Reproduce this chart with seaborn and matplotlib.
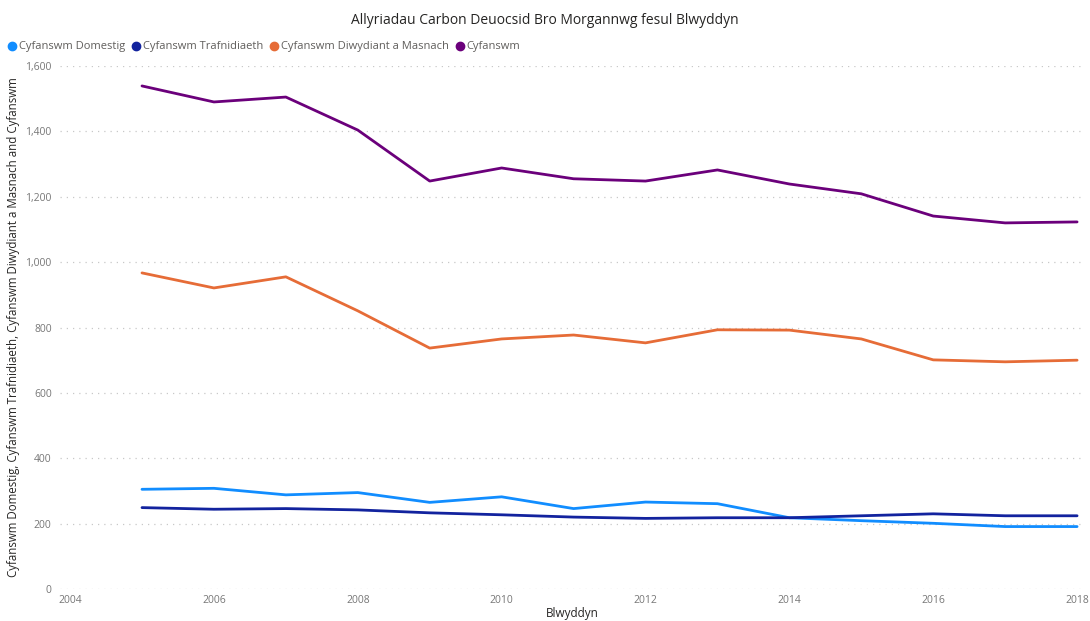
import matplotlib
matplotlib.use("Agg")
import matplotlib.pyplot as plt
from matplotlib.lines import Line2D
from matplotlib.ticker import FuncFormatter, MultipleLocator
import seaborn as sns
import pandas as pd

years = list(range(2005, 2019))
domestig = [305, 308, 288, 295, 265, 282, 246, 266, 261, 218, 209, 201, 191, 191]
trafnidiaeth = [249, 244, 246, 242, 233, 227, 220, 216, 218, 218, 224, 230, 224, 224]
diwydiant = [967, 921, 955, 851, 737, 765, 777, 753, 793, 792, 765, 701, 695, 700]
cyfanswm = [1539, 1490, 1505, 1404, 1248, 1288, 1255, 1248, 1282, 1239, 1209, 1141, 1120, 1123]

series_names = ["Cyfanswm Domestig", "Cyfanswm Trafnidiaeth",
                "Cyfanswm Diwydiant a Masnach", "Cyfanswm"]
colors = ["#118DFF", "#12239E", "#E66C37", "#6B007B"]

frames = []
for name, vals in zip(series_names, [domestig, trafnidiaeth, diwydiant, cyfanswm]):
    frames.append(pd.DataFrame({"Blwyddyn": years, "Gwerth": vals, "Cyfres": name}))
df = pd.concat(frames, ignore_index=True)

sns.set_theme(style="white")
plt.rcParams["font.family"] = ["Open Sans", "DejaVu Sans"]

fig = plt.figure(figsize=(10.9, 6.21), dpi=100)
ax = fig.add_axes([60 / 1090, 1 - 589 / 621, 1025 / 1090, 523 / 621])

sns.lineplot(data=df, x="Blwyddyn", y="Gwerth", hue="Cyfres",
             palette=dict(zip(series_names, colors)), hue_order=series_names,
             linewidth=2.0, ax=ax, legend=False)

ax.set_xlim(2003.86, 2018.11)
ax.set_ylim(0, 1600)
ax.xaxis.set_major_locator(MultipleLocator(2))
ax.yaxis.set_major_locator(MultipleLocator(200))
ax.yaxis.set_major_formatter(FuncFormatter(lambda v, p: f"{int(v):,}"))
ax.xaxis.set_major_formatter(FuncFormatter(lambda v, p: f"{int(v)}"))
for s in ax.spines.values():
    s.set_visible(False)
ax.grid(axis="y", color="#C8C8C8", linestyle=(0, (1, 4)), linewidth=0.9)
ax.grid(axis="x", visible=False)
ax.tick_params(axis="both", length=0, labelsize=7.5, colors="#777777")
ax.tick_params(axis="y", pad=6)
ax.tick_params(axis="x", pad=4)

ax.set_xlabel("Blwyddyn", fontsize=8.5, color="#252423", labelpad=1)
ax.set_ylabel("Cyfanswm Domestig, Cyfanswm Trafnidiaeth, Cyfanswm Diwydiant a Masnach and Cyfanswm",
              fontsize=8.3, color="#252423", labelpad=4)

fig.text(0.5, 1 - 20 / 621, "Allyriadau Carbon Deuocsid Bro Morgannwg fesul Blwyddyn",
         ha="center", va="center", fontsize=10, color="#252423")

handles = [Line2D([0], [0], marker="o", linestyle="", markersize=6,
                  markerfacecolor=c, markeredgecolor=c) for c in colors]
fig.legend(handles, series_names, loc="center left",
           bbox_to_anchor=(0.0, 1 - 47 / 621), ncol=4, frameon=False,
           fontsize=8, labelcolor="#605E5C", handletextpad=0.1,
           columnspacing=0.5, borderaxespad=0.2, handlelength=1.0)

fig.savefig("out.png", dpi=100)
